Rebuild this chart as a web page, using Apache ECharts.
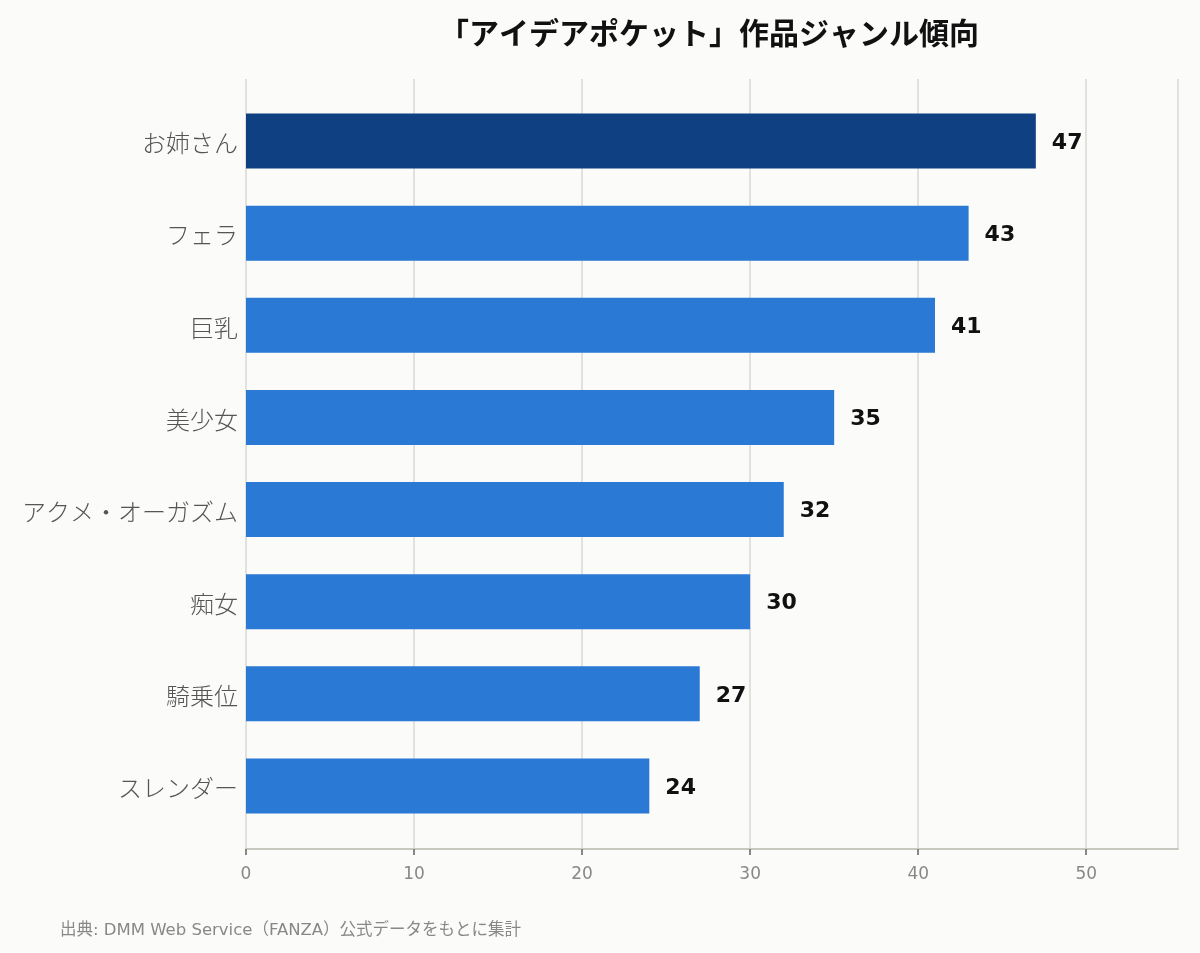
<!DOCTYPE html>
<html>
<head>
<meta charset="utf-8">
<script src="https://cdn.jsdelivr.net/npm/echarts@6/dist/echarts.min.js"></script>
<style>
html,body{margin:0;padding:0;background:#fbfbf9;}
#main{width:1200px;height:953px;}
</style>
</head>
<body>
<div id="main"></div>
<script>
var genres = ['お姉さん','フェラ','巨乳','美少女','アクメ・オーガズム','痴女','騎乗位','スレンダー'];
var counts = [47,43,41,35,32,30,27,24];
var xTicks = [0,10,20,30,40,50];

var FONT = '"DejaVu Sans", "Noto Sans CJK JP", sans-serif';
var xMax = 55.46;

var myChart = echarts.init(document.getElementById('main'));

var option = {
	backgroundColor: '#fbfbf9',
	title: [{
		text: '「アイデアポケット」作品ジャンル傾向',
		left: 709,
		textAlign: 'center',
		top: 21,
		padding: 0,
		textStyle: {fontFamily: FONT, fontSize: 30, fontWeight: 'bold', color: '#111'}
	},{
		text: '出典: DMM Web Service（FANZA）公式データをもとに集計',
		left: 60,
		top: 922,
		padding: 0,
		textStyle: {fontFamily: FONT, fontSize: 16.5, fontWeight: 'normal', color: '#888'}
	}],
	grid: [
		// bars
		{left: 246, right: 22, top: 95, bottom: 121},
		// axis + grid lines
		{left: 246, right: 22, top: 79, bottom: 104}
	],
	xAxis: [{
		gridIndex: 0,
		type: 'value',
		min: 0,
		max: xMax,
		show: false
	},{
		gridIndex: 1,
		type: 'value',
		min: 0,
		max: xMax,
		interval: 10,
		axisLine: {show: true, lineStyle: {color: '#c8c8c0', width: 2}},
		axisTick: {show: true, length: 6, lineStyle: {color: '#888', width: 2}},
		axisLabel: {
			fontFamily: FONT, fontSize: 17, color: '#888', margin: 17,
			showMaxLabel: false,
			formatter: function(v){ return xTicks.indexOf(v) >= 0 ? String(v) : ''; }
		},
		splitLine: {show: true, lineStyle: {color: '#e2e2dc', width: 2}}
	}],
	yAxis: [{
		gridIndex: 0,
		type: 'category',
		data: genres,
		inverse: true,
		axisLine: {show: false},
		axisTick: {show: false},
		axisLabel: {fontFamily: FONT, fontSize: 24, fontWeight: 300, color: '#555', margin: 8,
			verticalAlign: 'top', lineHeight: 10}
	},{
		gridIndex: 1,
		type: 'value',
		min: 0,
		max: 1,
		show: false
	}],
	series: [{
		type: 'bar',
		xAxisIndex: 0,
		yAxisIndex: 0,
		barWidth: 55,
		data: counts.map(function(v, i){
			return {value: v, itemStyle: {color: i === 0 ? '#0f4081' : '#2a79d5'}};
		}),
		label: {
			show: true,
			position: 'right',
			distance: 16,
			verticalAlign: 'top',
			lineHeight: 4,
			fontFamily: FONT,
			fontSize: 22,
			fontWeight: 'bold',
			color: '#111'
		},
		silent: true,
		animation: false
	}],
	animation: false
};

myChart.setOption(option);
</script>
</body>
</html>
